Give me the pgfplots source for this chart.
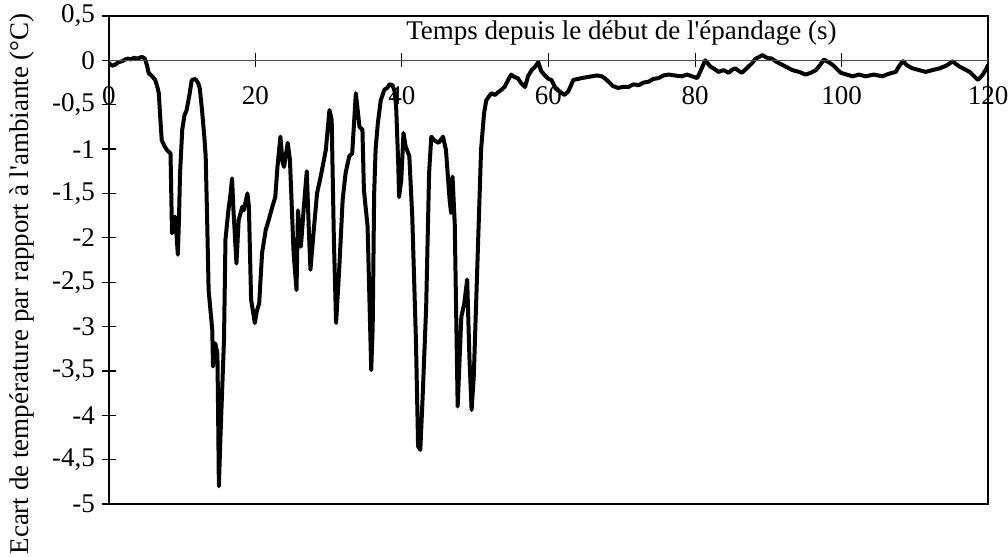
\documentclass[border=0pt]{standalone}
\usepackage{fontspec}
\setmainfont{Liberation Serif}[Ligatures=TeXOff]
\usepackage{pgfplots}
\pgfplotsset{compat=1.18}
\begin{document}
\begin{tikzpicture}
\useasboundingbox (-54.5pt,-26.5pt) rectangle (449.5pt,252pt);
\begin{axis}[
  scale only axis, width=439.5pt, height=244pt,
  xmin=0, xmax=120, ymin=-5, ymax=0.5,
  axis line style={black, line width=0.8pt},
  xtick=\empty,
  ytick={-5,-4.5,-4,-3.5,-3,-2.5,-2,-1.5,-1,-0.5,0,0.5},
  yticklabels={-5,{-4,5},-4,{-3,5},-3,{-2,5},-2,{-1,5},-1,{-0,5},0,{0,5}},
  ytick pos=left, tick align=center, major tick length=7pt,
  tick style={black, line width=0.6pt},
  tick label style={font=\fontsize{13.5}{15}\selectfont},
  label style={font=\fontsize{13.5}{15}\selectfont},
  ylabel={Ecart de température par rapport à l'ambiante (°C)},
  ylabel style={at={(rel axis cs:-0.099,0.451)}, anchor=center},
]
\addplot[black, line width=2pt, line join=round] coordinates {
(0,-0.03) (0.4,-0.06) (0.8,-0.05) (1.3,-0.02) (1.8,-0.01) (2.2,0.01) (2.6,0.02) (3.0,0.01) (3.4,0.03) (3.9,0.02) (4.5,0.04) (4.9,0.02) (5.2,-0.06) (5.4,-0.14) (5.9,-0.18) (6.3,-0.22) (6.6,-0.30) (6.8,-0.37) (7.0,-0.65) (7.2,-0.90) (7.6,-0.97) (7.9,-1.01) (8.4,-1.05) (8.5,-1.5) (8.6,-1.95) (8.8,-1.80) (9.0,-1.76) (9.2,-1.95) (9.4,-2.19) (9.55,-1.8) (9.7,-1.27) (10.0,-0.78) (10.3,-0.62) (10.6,-0.56) (11.0,-0.38) (11.3,-0.22) (11.8,-0.21) (12.2,-0.26) (12.4,-0.32) (12.7,-0.56) (13.0,-0.85) (13.2,-1.08) (13.4,-1.8) (13.6,-2.59) (14.1,-3.04) (14.2,-3.45) (14.5,-3.19) (14.8,-3.30) (14.9,-4.0) (15.0,-4.80) (15.2,-4.28) (15.5,-3.6) (15.7,-3.15) (15.9,-2.02) (16.3,-1.69) (16.6,-1.5) (16.8,-1.33) (17.0,-1.7) (17.4,-2.29) (17.7,-1.80) (18.2,-1.65) (18.4,-1.69) (18.9,-1.50) (19.1,-1.65) (19.4,-2.70) (19.7,-2.85) (19.9,-2.96) (20.2,-2.82) (20.5,-2.74) (20.9,-2.17) (21.4,-1.91) (21.8,-1.80) (22.3,-1.65) (22.7,-1.54) (23.0,-1.20) (23.4,-0.86) (23.7,-1.15) (23.9,-1.20) (24.4,-0.93) (24.7,-1.12) (25.2,-2.17) (25.6,-2.59) (25.8,-1.69) (26.0,-1.9) (26.2,-2.10) (26.6,-1.65) (27.0,-1.25) (27.3,-1.95) (27.5,-2.36) (28.0,-1.87) (28.4,-1.50) (28.9,-1.31) (29.6,-1.01) (30.1,-0.56) (30.4,-0.67) (30.7,-2.02) (31.0,-2.96) (31.4,-2.40) (31.9,-1.57) (32.3,-1.27) (32.8,-1.08) (33.2,-1.05) (33.7,-0.37) (34.2,-0.75) (34.6,-0.78) (34.8,-1.46) (35.3,-1.87) (35.8,-3.49) (36.0,-3.0) (36.2,-1.5) (36.4,-1.0) (36.7,-0.71) (37.1,-0.45) (37.6,-0.33) (38.0,-0.31) (38.3,-0.27) (38.7,-0.28) (39.0,-0.35) (39.2,-0.52) (39.5,-1.2) (39.6,-1.54) (39.9,-1.35) (40.2,-0.82) (40.5,-0.97) (41.0,-1.08) (41.4,-1.76) (41.9,-3.15) (42.2,-4.35) (42.5,-4.39) (42.8,-3.83) (43.3,-2.78) (43.7,-1.27) (44.0,-0.86) (44.4,-0.90) (45.0,-0.93) (45.6,-0.86) (46.0,-1.01) (46.5,-1.57) (46.7,-1.72) (46.9,-1.31) (47.2,-1.84) (47.6,-3.90) (48.1,-2.89) (48.5,-2.74) (48.9,-2.47) (49.2,-3.34) (49.5,-3.94) (49.8,-3.56) (50.4,-2.02) (50.8,-1.0) (51.2,-0.6) (51.5,-0.45) (52.2,-0.37) (52.7,-0.39) (53.1,-0.36) (53.6,-0.33) (54.0,-0.30) (54.5,-0.22) (54.9,-0.16) (55.4,-0.19) (55.8,-0.20) (56.3,-0.26) (56.8,-0.30) (57.2,-0.18) (57.7,-0.11) (58.2,-0.07) (58.6,-0.02) (59.0,-0.12) (59.4,-0.16) (60.0,-0.21) (60.4,-0.22) (61.0,-0.32) (61.5,-0.35) (62.2,-0.39) (62.7,-0.35) (63.4,-0.22) (64.0,-0.21) (64.5,-0.20) (65.2,-0.19) (65.9,-0.18) (66.6,-0.17) (67.3,-0.18) (67.8,-0.21) (68.2,-0.24) (68.8,-0.29) (69.5,-0.31) (70.2,-0.30) (70.9,-0.30) (71.6,-0.27) (72.3,-0.28) (73.0,-0.25) (73.7,-0.24) (74.3,-0.21) (75.0,-0.20) (75.7,-0.17) (76.4,-0.16) (77.2,-0.17) (78.2,-0.18) (78.9,-0.16) (79.6,-0.18) (80.3,-0.20) (80.7,-0.13) (81.4,0.00) (81.8,-0.04) (82.1,-0.07) (82.7,-0.10) (83.2,-0.13) (83.9,-0.11) (84.6,-0.14) (85.0,-0.11) (85.5,-0.09) (86.0,-0.12) (86.4,-0.14) (87.3,-0.07) (87.8,-0.03) (88.3,0.02) (88.8,0.04) (89.2,0.06) (89.8,0.03) (90.5,0.02) (91.2,-0.02) (91.9,-0.05) (92.6,-0.08) (93.3,-0.11) (94.2,-0.13) (95.1,-0.16) (95.8,-0.14) (96.5,-0.11) (97.1,-0.05) (97.6,0.01) (98.2,-0.02) (98.8,-0.05) (99.4,-0.10) (99.9,-0.14) (100.7,-0.16) (101.5,-0.18) (102.4,-0.16) (103.3,-0.18) (104.4,-0.16) (105.6,-0.18) (106.5,-0.15) (107.4,-0.13) (107.9,-0.06) (108.4,-0.01) (109.0,-0.06) (109.7,-0.09) (110.6,-0.11) (111.5,-0.13) (112.4,-0.11) (113.4,-0.09) (114.3,-0.06) (115.2,-0.01) (115.6,-0.04) (116.1,-0.07) (116.8,-0.10) (117.5,-0.13) (118.0,-0.17) (118.6,-0.22) (119.0,-0.19) (119.3,-0.16) (119.8,-0.09) (120,-0.05)
};
\end{axis}
\begin{axis}[
  scale only axis, width=439.5pt, height=244pt,
  xmin=0, xmax=120, ymin=-5, ymax=0.5,
  axis x line=middle, axis y line=none,
  axis line style={-, black!70, line width=0.6pt},
  xtick={0,20,40,60,80,100,120}, ytick=\empty,
  tick align=center, major tick length=7pt,
  tick style={black, line width=0.5pt},
  /pgf/number format/assume math mode=true,
  xticklabel style={font=\fontsize{13.5}{15}\selectfont, yshift=-6pt},
  label style={font=\fontsize{13.5}{15}\selectfont},
  xlabel={Temps depuis le début de l'épandage (s)},
  xlabel style={at={(rel axis cs:0.583,0.965)}, anchor=center},
]
\end{axis}
\end{tikzpicture}
\end{document}
